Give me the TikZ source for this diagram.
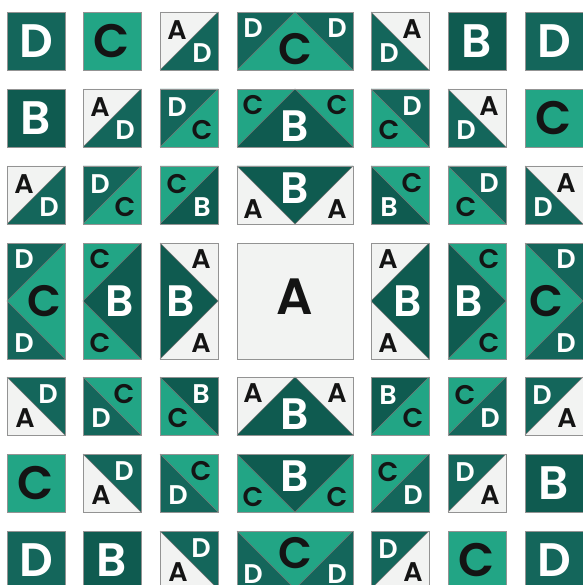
\documentclass[tikz,border=0pt]{standalone}
\usepackage{fontspec}
\setmainfont{Poppins}[BoldFont={* SemiBold}]

\definecolor{fabA}{HTML}{F2F3F2}
\definecolor{fabB}{HTML}{0F5B50}
\definecolor{fabC}{HTML}{22A585}
\definecolor{fabD}{HTML}{14665B}
\colorlet{txtA}{black!92}
\colorlet{txtB}{white}
\colorlet{txtC}{black!92}
\colorlet{txtD}{white}

\tikzset{
    edge/.style={draw=gray!85, line width=0.8pt},
    seam/.style={draw=black!55, line width=0.5pt},
    ltr/.style={inner sep=0pt, font=\bfseries\fontsize{27}{27}\selectfont},
    midltr/.style={inner sep=0pt, font=\bfseries\fontsize{44}{44}\selectfont},
    bigltr/.style={inner sep=0pt, font=\bfseries\fontsize{47}{47}\selectfont},
    hugeltr/.style={inner sep=0pt, font=\bfseries\fontsize{51}{51}\selectfont}
}

% solid square: x, y, fabric
\newcommand{\solidsq}[3]{%
    \fill[fab#3] (#1,#2) rectangle ++(58,58);
    \draw[edge] (#1,#2) rectangle ++(58,58);
    \node[bigltr, text=txt#3] (s#1-#2) at (#1+29,#2+29) {#3};}

% half square, seam /: x, y, upper-left, lower-right
\newcommand{\hsup}[4]{%
    \fill[fab#3] (#1,#2) -- ++(58,0) -- ++(-58,58) -- cycle;
    \fill[fab#4] (#1+58,#2) -- ++(0,58) -- ++(-58,0) -- cycle;
    \draw[seam] (#1+58,#2) -- ++(-58,58);
    \draw[edge] (#1,#2) rectangle ++(58,58);
    \node[ltr, text=txt#3] (h#1-#2a) at (#1+17,#2+18) {#3};
    \node[ltr, text=txt#4] (h#1-#2b) at (#1+42,#2+41) {#4};}

% half square, seam \: x, y, lower-left, upper-right
\newcommand{\hsdn}[4]{%
    \fill[fab#3] (#1,#2) -- ++(0,58) -- ++(58,0) -- cycle;
    \fill[fab#4] (#1,#2) -- ++(58,0) -- ++(0,58) -- cycle;
    \draw[seam] (#1,#2) -- ++(58,58);
    \draw[edge] (#1,#2) rectangle ++(58,58);
    \node[ltr, text=txt#3] (h#1-#2a) at (#1+18,#2+41) {#3};
    \node[ltr, text=txt#4] (h#1-#2b) at (#1+41,#2+17) {#4};}

% wide goose pointing up: x, y, corners, goose
\newcommand{\geeseup}[4]{%
    \fill[fab#3] (#1,#2) rectangle ++(116,58);
    \fill[fab#4] (#1,#2+58) -- ++(116,0) -- ++(-58,-58) -- cycle;
    \draw[seam] (#1,#2+58) -- ++(58,-58) -- ++(58,58);
    \draw[edge] (#1,#2) rectangle ++(116,58);
    \node[ltr, text=txt#3] (g#1-#2a) at (#1+16,#2+16) {#3};
    \node[ltr, text=txt#3] (g#1-#2b) at (#1+100,#2+16) {#3};
    \node[midltr, text=txt#4] (g#1-#2c) at (#1+58,#2+37) {#4};}

% wide goose pointing down: x, y, corners, goose
\newcommand{\geesedn}[4]{%
    \fill[fab#3] (#1,#2) rectangle ++(116,58);
    \fill[fab#4] (#1,#2) -- ++(116,0) -- ++(-58,58) -- cycle;
    \draw[seam] (#1,#2) -- ++(58,58) -- ++(58,-58);
    \draw[edge] (#1,#2) rectangle ++(116,58);
    \node[ltr, text=txt#3] (g#1-#2a) at (#1+16,#2+43) {#3};
    \node[ltr, text=txt#3] (g#1-#2b) at (#1+100,#2+43) {#3};
    \node[midltr, text=txt#4] (g#1-#2c) at (#1+58,#2+22) {#4};}

% tall goose pointing left: x, y, corners, goose
\newcommand{\geeself}[4]{%
    \fill[fab#3] (#1,#2) rectangle ++(58,116);
    \fill[fab#4] (#1+58,#2) -- ++(0,116) -- ++(-58,-58) -- cycle;
    \draw[seam] (#1+58,#2) -- ++(-58,58) -- ++(58,58);
    \draw[edge] (#1,#2) rectangle ++(58,116);
    \node[ltr, text=txt#3] (g#1-#2a) at (#1+17,#2+16) {#3};
    \node[ltr, text=txt#3] (g#1-#2b) at (#1+17,#2+100) {#3};
    \node[midltr, text=txt#4] (g#1-#2c) at (#1+37,#2+58) {#4};}

% tall goose pointing right: x, y, corners, goose
\newcommand{\geesert}[4]{%
    \fill[fab#3] (#1,#2) rectangle ++(58,116);
    \fill[fab#4] (#1,#2) -- ++(0,116) -- ++(58,-58) -- cycle;
    \draw[seam] (#1,#2) -- ++(58,58) -- ++(-58,58);
    \draw[edge] (#1,#2) rectangle ++(58,116);
    \node[ltr, text=txt#3] (g#1-#2a) at (#1+41,#2+16) {#3};
    \node[ltr, text=txt#3] (g#1-#2b) at (#1+41,#2+100) {#3};
    \node[midltr, text=txt#4] (g#1-#2c) at (#1+21,#2+58) {#4};}

\begin{document}
\begin{tikzpicture}[x=1pt, y=-1pt]
\useasboundingbox[fill=white] (0,0) rectangle (582,585);

% row 1
\solidsq{7}{12}{D}
\solidsq{83}{12}{C}
\hsup{160}{12}{A}{D}
\geeseup{237}{12}{D}{C}
\hsdn{371}{12}{D}{A}
\solidsq{448}{12}{B}
\solidsq{525}{12}{D}

% row 2
\solidsq{7}{89}{B}
\hsup{83}{89}{A}{D}
\hsup{160}{89}{D}{C}
\geeseup{237}{89}{C}{B}
\hsdn{371}{89}{C}{D}
\hsdn{448}{89}{D}{A}
\solidsq{525}{89}{C}

% row 3
\hsup{7}{166}{A}{D}
\hsup{83}{166}{D}{C}
\hsup{160}{166}{C}{B}
\geesedn{237}{166}{A}{B}
\hsdn{371}{166}{B}{C}
\hsdn{448}{166}{C}{D}
\hsdn{525}{166}{D}{A}

% row 4 (centre)
\geeself{7}{243}{D}{C}
\geeself{83}{243}{C}{B}
\geesert{160}{243}{A}{B}
\fill[fabA] (237,243) rectangle ++(116,116);
\draw[edge] (237,243) rectangle ++(116,116);
\node[hugeltr, text=txtA] (centre) at (295,297) {A};
\geeself{371}{243}{A}{B}
\geesert{448}{243}{C}{B}
\geesert{525}{243}{D}{C}

% row 5
\hsdn{7}{377}{A}{D}
\hsdn{83}{377}{D}{C}
\hsdn{160}{377}{C}{B}
\geeseup{237}{377}{A}{B}
\hsup{371}{377}{B}{C}
\hsup{448}{377}{C}{D}
\hsup{525}{377}{D}{A}

% row 6
\solidsq{7}{454}{C}
\hsdn{83}{454}{A}{D}
\hsdn{160}{454}{D}{C}
\geesedn{237}{454}{C}{B}
\hsup{371}{454}{C}{D}
\hsup{448}{454}{D}{A}
\solidsq{525}{454}{B}

% row 7
\solidsq{7}{531}{D}
\solidsq{83}{531}{B}
\hsdn{160}{531}{A}{D}
\geesedn{237}{531}{D}{C}
\hsup{371}{531}{D}{A}
\solidsq{448}{531}{C}
\solidsq{525}{531}{D}
\end{tikzpicture}
\end{document}
